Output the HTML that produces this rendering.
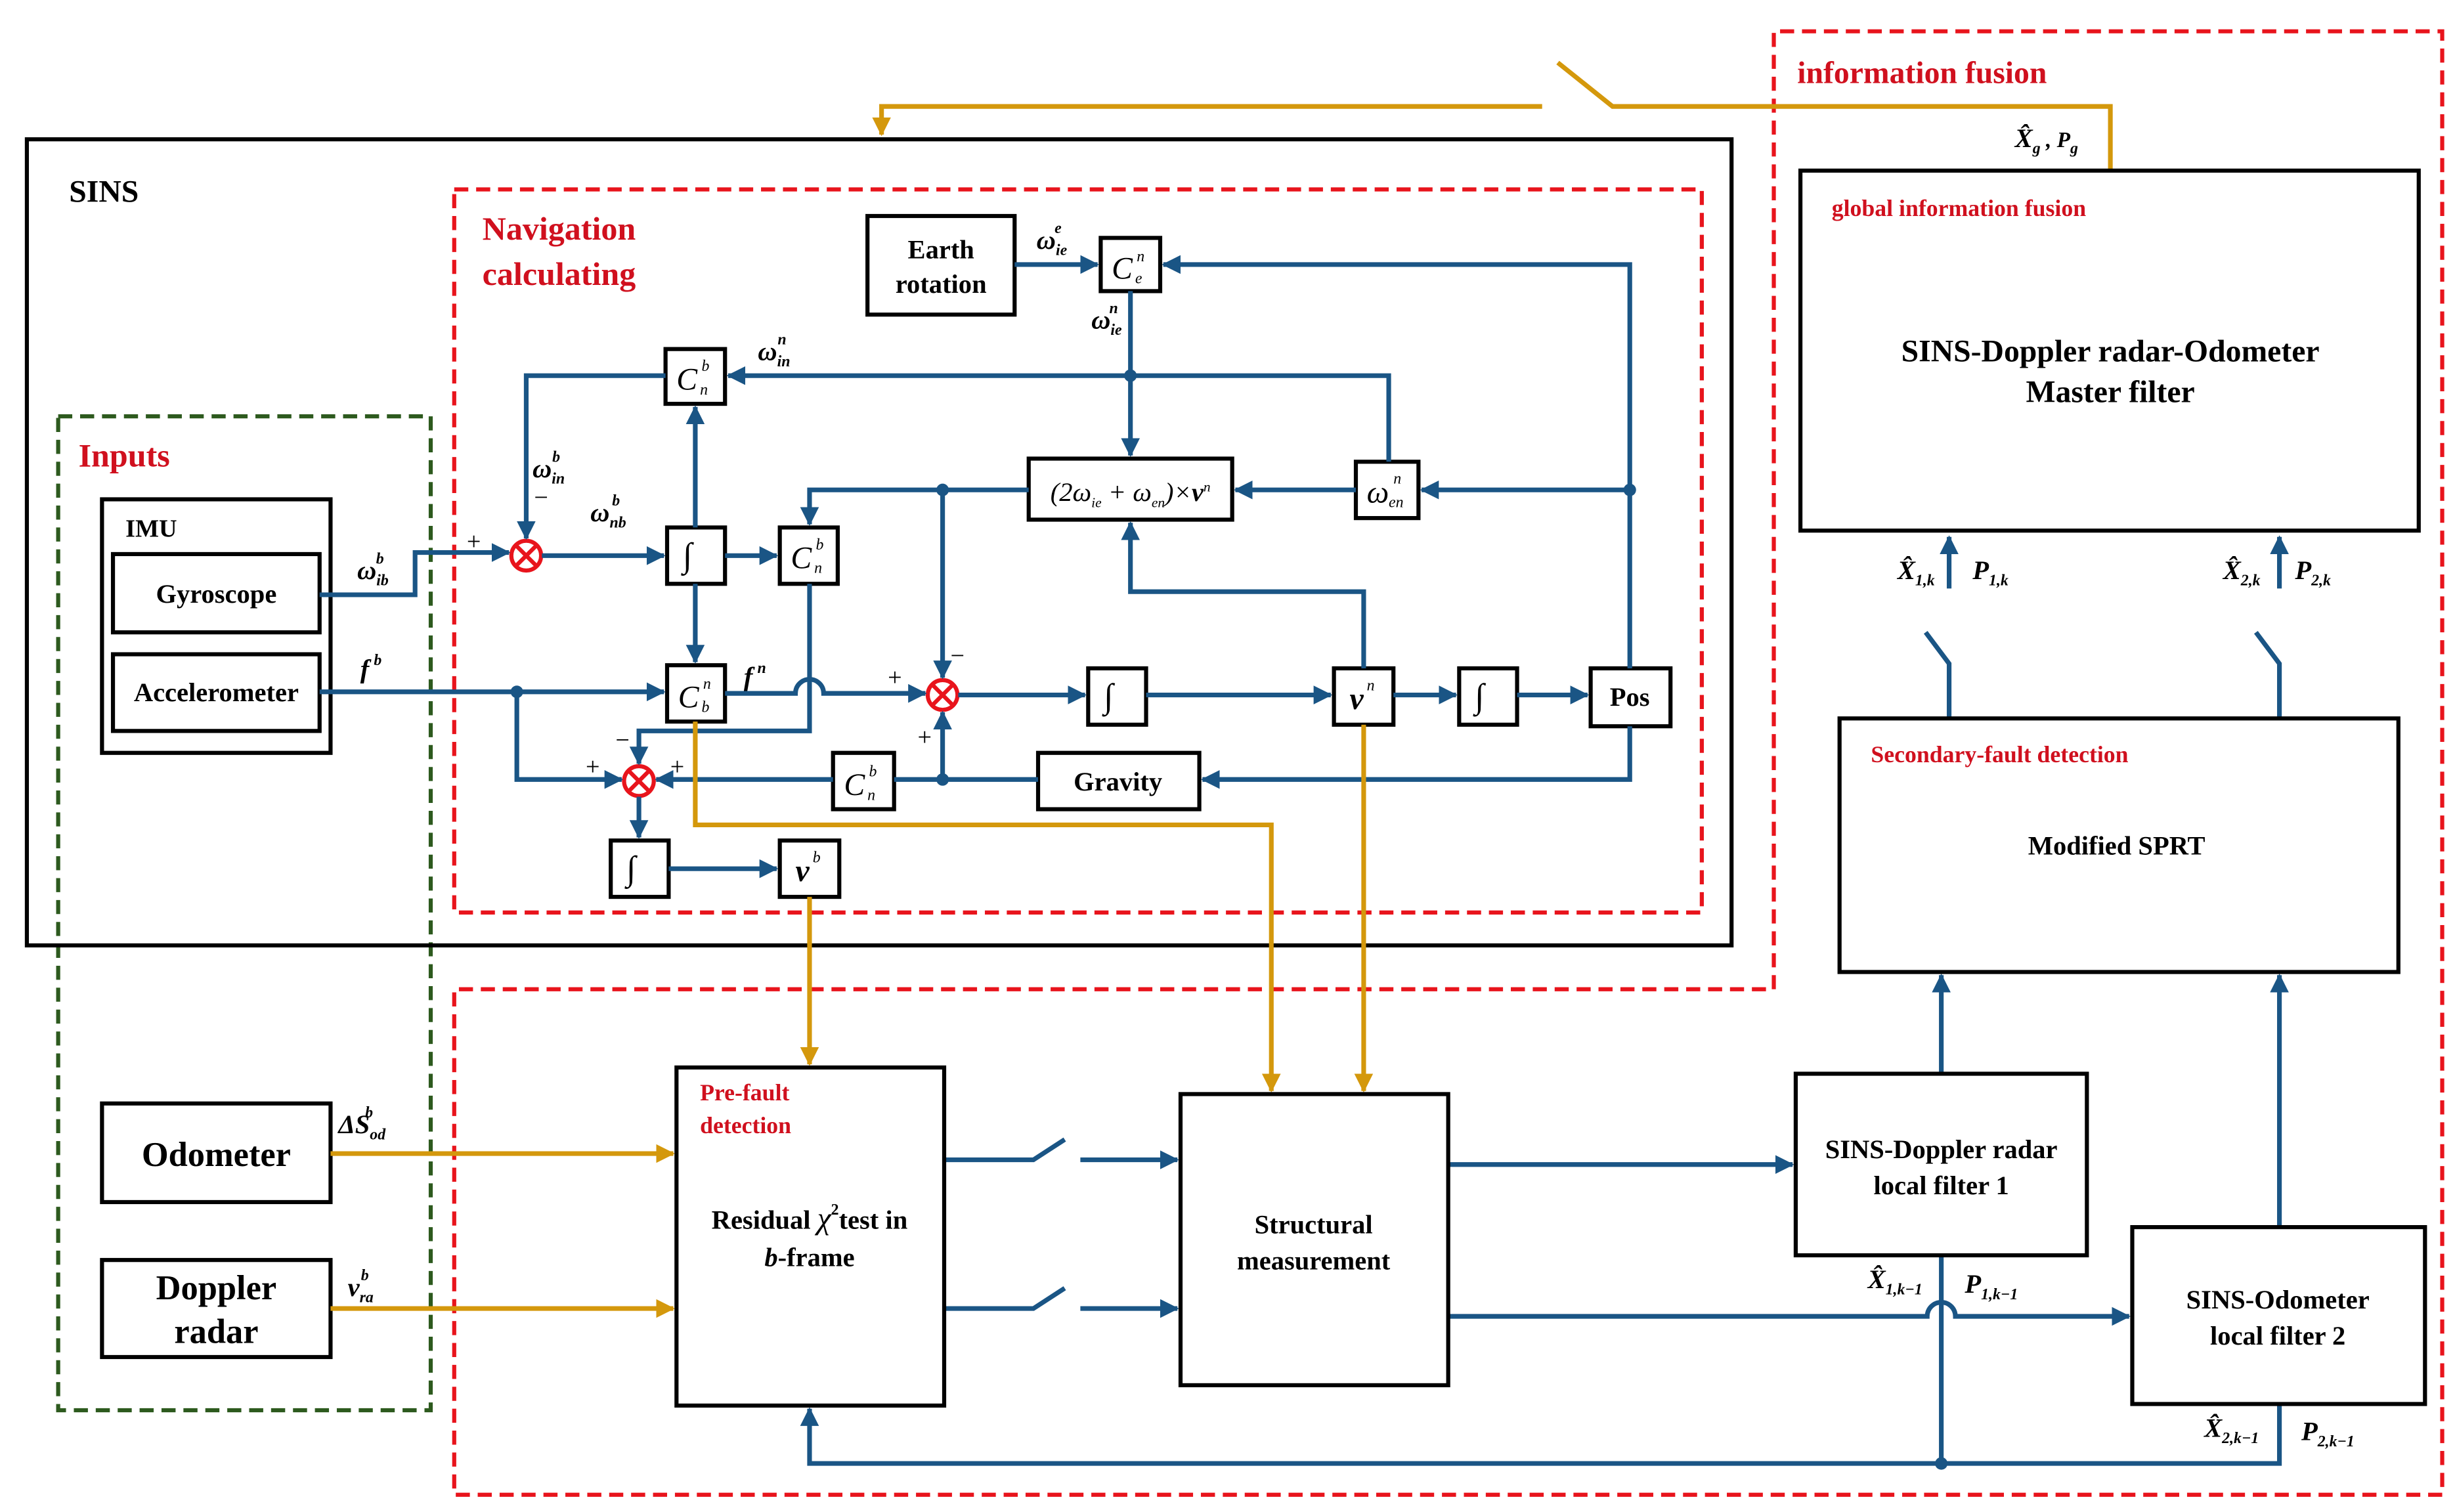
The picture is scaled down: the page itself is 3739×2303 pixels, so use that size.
<!DOCTYPE html>
<html><head><meta charset="utf-8"><style>
html,body{margin:0;padding:0;background:#fff}
svg{display:block}
text{font-family:"Liberation Serif",serif}
.b{fill:none;stroke:#000;stroke-width:2.6}
.w{fill:none;stroke:#1a5585;stroke-width:3}
.o{fill:none;stroke:#d4980c;stroke-width:3}
.lbl{font-weight:bold;font-size:17px;text-anchor:middle}
.red{fill:#d0101e;font-weight:bold}
.s{font-style:italic;font-size:10px}
</style></head><body>
<svg width="3739" height="2303" viewBox="0 0 1568 966" xmlns="http://www.w3.org/2000/svg">
<defs>
<marker id="a" markerUnits="userSpaceOnUse" markerWidth="12" markerHeight="12" refX="11" refY="6" orient="auto"><path d="M0,0 L12,6 L0,12 z" fill="#1a5585"/></marker>
<marker id="ao" markerUnits="userSpaceOnUse" markerWidth="12" markerHeight="12" refX="11" refY="6" orient="auto"><path d="M0,0 L12,6 L0,12 z" fill="#d4980c"/></marker>
</defs>
<rect width="1568" height="966" fill="#fff"/>

<rect x="290" y="121" width="797" height="462" fill="none" stroke="#e8141c" stroke-width="2.6" stroke-dasharray="9,5"/>
<rect x="37" y="266" width="238" height="635" fill="none" stroke="#2d5a1e" stroke-width="2.6" stroke-dasharray="9,5"/>
<path d="M1133,632 L1133,20 L1560,20 L1560,955 L290,955 L290,632 Z" fill="none" stroke="#e8141c" stroke-width="2.6" stroke-dasharray="9,5"/>
<rect x="17" y="89" width="1089" height="515" fill="none" stroke="#000" stroke-width="2.6"/>

<text x="44" y="129" font-size="20" font-weight="bold">SINS</text>
<text x="308" y="153" font-size="21" class="red">Navigation</text>
<text x="308" y="182" font-size="21" class="red">calculating</text>
<text x="50" y="298" font-size="21" class="red">Inputs</text>
<text x="1148" y="53" font-size="20" class="red">information fusion</text>

<rect x="65" y="319" width="146" height="162" class="b"/>
<text x="80" y="343" font-size="16" font-weight="bold">IMU</text>
<rect x="72" y="354" width="132" height="50" class="b"/>
<text x="138" y="385" class="lbl">Gyroscope</text>
<rect x="72" y="418" width="132" height="49" class="b"/>
<text x="138" y="448" class="lbl">Accelerometer</text>

<rect x="65" y="705" width="146" height="63" class="b"/>
<text x="138" y="745" class="lbl" style="font-size:22px">Odometer</text>
<rect x="65" y="805" width="146" height="62" class="b"/>
<text x="138" y="830" class="lbl" style="font-size:22px">Doppler</text>
<text x="138" y="858" class="lbl" style="font-size:22px">radar</text>

<rect x="554" y="138" width="94" height="63" class="b"/>
<text x="601" y="165" class="lbl">Earth</text>
<text x="601" y="187" class="lbl">rotation</text>
<rect x="703" y="152" width="38" height="34" class="b"/>
<rect x="425" y="223" width="38" height="35" class="b"/>
<rect x="426" y="337" width="37" height="36" class="b"/>
<rect x="498" y="337" width="37" height="36" class="b"/>
<rect x="426" y="425" width="37" height="36" class="b"/>
<rect x="657" y="293" width="130" height="39" class="b"/>
<rect x="866" y="295" width="40" height="36" class="b"/>
<rect x="695" y="427" width="37" height="36" class="b"/>
<rect x="852" y="427" width="38" height="36" class="b"/>
<rect x="932" y="427" width="37" height="36" class="b"/>
<rect x="1016" y="427" width="51" height="37" class="b"/>
<text x="1041" y="451" class="lbl">Pos</text>
<rect x="663" y="481" width="103" height="36" class="b"/>
<text x="714" y="505" class="lbl">Gravity</text>
<rect x="532" y="481" width="39" height="36" class="b"/>
<rect x="390" y="537" width="37" height="36" class="b"/>
<rect x="498" y="537" width="38" height="36" class="b"/>

<g font-style="italic" font-size="20">
<text x="710" y="178">C</text><text x="726" y="167" class="s">n</text><text x="725" y="181" class="s">e</text>
<text x="432" y="249">C</text><text x="448" y="237" class="s">b</text><text x="447" y="252" class="s">n</text>
<text x="505" y="363">C</text><text x="521" y="351" class="s">b</text><text x="520" y="366" class="s">n</text>
<text x="433" y="452">C</text><text x="449" y="440" class="s">n</text><text x="448" y="455" class="s">b</text>
<text x="539" y="508">C</text><text x="555" y="496" class="s">b</text><text x="554" y="511" class="s">n</text>
<text x="873" y="321">ω</text><text x="890" y="309" class="s">n</text><text x="887" y="324" class="s">en</text>
<text x="862" y="453" font-weight="bold">v</text><text x="873" y="441" class="s">n</text>
<text x="508" y="563" font-weight="bold">v</text><text x="519" y="551" class="s">b</text>
</g>
<text x="436" y="362" font-size="22">∫</text>
<text x="705" y="452" font-size="22">∫</text>
<text x="942" y="452" font-size="22">∫</text>
<text x="400" y="562" font-size="22">∫</text>
<text x="722" y="320" font-size="17" text-anchor="middle" font-style="italic">(2ω<tspan font-size="9" dy="4">ie</tspan><tspan font-size="17" dy="-4"> + ω</tspan><tspan font-size="9" dy="4">en</tspan><tspan font-size="17" dy="-4">)×</tspan><tspan font-weight="bold">v</tspan><tspan font-size="9" dy="-6">n</tspan></text>

<g fill="#fff" stroke="#e8141c" stroke-width="2.6">
<circle cx="336" cy="355" r="9.5"/><path d="M329,348 L343,362 M343,348 L329,362"/>
<circle cx="602" cy="444" r="9.5"/><path d="M595,437 L609,451 M609,437 L595,451"/>
<circle cx="408" cy="499" r="9.5"/><path d="M401,492 L415,506 M415,492 L401,506"/>
</g>

<g class="w">
<path d="M648,169 H701" marker-end="url(#a)"/>
<path d="M1041,427 V169 H743" marker-end="url(#a)"/>
<path d="M722,186 V291" marker-end="url(#a)"/>
<path d="M887,295 V240 H465" marker-end="url(#a)"/>
<path d="M425,240 H336 V344" marker-end="url(#a)"/>
<path d="M204,380 H265 V353 H325" marker-end="url(#a)"/>
<path d="M346,355 H424" marker-end="url(#a)"/>
<path d="M463,355 H496" marker-end="url(#a)"/>
<path d="M444,337 V260" marker-end="url(#a)"/>
<path d="M444,373 V423" marker-end="url(#a)"/>
<path d="M204,442 H424" marker-end="url(#a)"/>
<path d="M330,442 V498 H397" marker-end="url(#a)"/>
<path d="M463,443 H508 A9,9 0 0 1 526,443 H591" marker-end="url(#a)"/>
<path d="M517,373 V452 V467 H408 V488" marker-end="url(#a)"/>
<path d="M657,313 H517 V335" marker-end="url(#a)"/>
<path d="M602,313 V433" marker-end="url(#a)"/>
<path d="M612,444 H693" marker-end="url(#a)"/>
<path d="M732,444 H850" marker-end="url(#a)"/>
<path d="M890,444 H930" marker-end="url(#a)"/>
<path d="M969,444 H1014" marker-end="url(#a)"/>
<path d="M871,427 V378 H722 V334" marker-end="url(#a)"/>
<path d="M1041,313 H908" marker-end="url(#a)"/>
<path d="M866,313 H789" marker-end="url(#a)"/>
<path d="M1041,464 V498 H768" marker-end="url(#a)"/>
<path d="M663,498 H571"/>
<path d="M602,498 V455" marker-end="url(#a)"/>
<path d="M532,498 H419" marker-end="url(#a)"/>
<path d="M408,509 V535" marker-end="url(#a)"/>
<path d="M427,555 H496" marker-end="url(#a)"/>
<path d="M603,741 H660 L680,728"/>
<path d="M690,741 H752" marker-end="url(#a)"/>
<path d="M603,836 H660 L680,823"/>
<path d="M690,836 H752" marker-end="url(#a)"/>
<path d="M925,744 H1145" marker-end="url(#a)"/>
<path d="M925,841 H1231 A9,9 0 0 1 1249,841 H1360" marker-end="url(#a)"/>
<path d="M1240,802 V935"/>
<path d="M1456,897 V935 H517 V900" marker-end="url(#a)"/>
<path d="M1240,686 V623" marker-end="url(#a)"/>
<path d="M1456,784 V623" marker-end="url(#a)"/>
<path d="M1245,459 V424 L1230,404"/>
<path d="M1245,376 V343" marker-end="url(#a)"/>
<path d="M1456,459 V424 L1441,404"/>
<path d="M1456,376 V343" marker-end="url(#a)"/>
</g>
<g fill="#1a5585">
<circle cx="722" cy="240" r="4"/><circle cx="1041" cy="313" r="4"/><circle cx="602" cy="313" r="4"/>
<circle cx="330" cy="442" r="4"/><circle cx="602" cy="498" r="4"/><circle cx="1240" cy="935" r="4"/>
</g>

<g class="o">
<path d="M1348,109 V68 H1030 L995,40"/>
<path d="M985,68 H563 V86" marker-end="url(#ao)"/>
<path d="M517,573 V680" marker-end="url(#ao)"/>
<path d="M444,461 V527 H812 V697" marker-end="url(#ao)"/>
<path d="M871,463 V697" marker-end="url(#ao)"/>
<path d="M211,737 H430" marker-end="url(#ao)"/>
<path d="M211,836 H430" marker-end="url(#ao)"/>
</g>

<g font-size="16">
<text x="298" y="351">+</text><text x="341" y="323">−</text>
<text x="567" y="438">+</text><text x="607" y="424">−</text><text x="586" y="476">+</text>
<text x="374" y="495">+</text><text x="428" y="495">+</text><text x="393" y="478">−</text>
</g>

<g font-style="italic" font-weight="bold" font-size="17">
<text x="228" y="370">ω<tspan class="s" dy="4">ib</tspan><tspan class="s" dx="-8" dy="-14">b</tspan></text>
<text x="230" y="433">f<tspan class="s" dy="-8" dx="3">b</tspan></text>
<text x="340" y="305">ω<tspan class="s" dy="4">in</tspan><tspan class="s" dx="-8" dy="-14">b</tspan></text>
<text x="377" y="333">ω<tspan class="s" dy="4">nb</tspan><tspan class="s" dx="-9" dy="-14">b</tspan></text>
<text x="484" y="230">ω<tspan class="s" dy="4">in</tspan><tspan class="s" dx="-8" dy="-14">n</tspan></text>
<text x="662" y="159">ω<tspan class="s" dy="4">ie</tspan><tspan class="s" dx="-8" dy="-14">e</tspan></text>
<text x="697" y="210">ω<tspan class="s" dy="4">ie</tspan><tspan class="s" dx="-8" dy="-14">n</tspan></text>
<text x="475" y="438">f<tspan class="s" dy="-8" dx="3">n</tspan></text>
<text x="216" y="724">ΔS<tspan class="s" dy="4">od</tspan><tspan class="s" dx="-13" dy="-14">b</tspan></text>
<text x="222" y="828">v<tspan class="s" dy="4">ra</tspan><tspan class="s" dx="-8" dy="-14">b</tspan></text>
<text x="1287" y="94">X̂<tspan class="s" dy="4">g</tspan><tspan font-size="14" dy="-4"> , P</tspan><tspan class="s" dy="4">g</tspan></text>
<text x="1212" y="370">X̂<tspan class="s" dy="4">1,k</tspan></text>
<text x="1260" y="370">P<tspan class="s" dy="4">1,k</tspan></text>
<text x="1420" y="370">X̂<tspan class="s" dy="4">2,k</tspan></text>
<text x="1466" y="370">P<tspan class="s" dy="4">2,k</tspan></text>
<text x="1193" y="823">X̂<tspan class="s" dy="4">1,k−1</tspan></text>
<text x="1255" y="826">P<tspan class="s" dy="4">1,k−1</tspan></text>
<text x="1408" y="918">X̂<tspan class="s" dy="4">2,k−1</tspan></text>
<text x="1470" y="920">P<tspan class="s" dy="4">2,k−1</tspan></text>
</g>

<rect x="1150" y="109" width="395" height="230" class="b"/>
<text x="1170" y="138" font-size="15" class="red">global information fusion</text>
<text x="1348" y="231" class="lbl" style="font-size:20px">SINS-Doppler radar-Odometer</text>
<text x="1348" y="257" class="lbl" style="font-size:20px">Master filter</text>
<rect x="1175" y="459" width="357" height="162" class="b"/>
<text x="1195" y="487" font-size="15" class="red">Secondary-fault detection</text>
<text x="1352" y="546" class="lbl">Modified SPRT</text>
<rect x="1147" y="686" width="186" height="116" class="b"/>
<text x="1240" y="740" class="lbl">SINS-Doppler radar</text>
<text x="1240" y="763" class="lbl">local filter 1</text>
<rect x="1362" y="784" width="187" height="113" class="b"/>
<text x="1455" y="836" class="lbl">SINS-Odometer</text>
<text x="1455" y="859" class="lbl">local filter 2</text>
<rect x="754" y="699" width="171" height="186" class="b"/>
<text x="839" y="788" class="lbl">Structural</text>
<text x="839" y="811" class="lbl">measurement</text>
<rect x="432" y="682" width="171" height="216" class="b"/>
<text x="447" y="703" font-size="15" class="red">Pre-fault</text>
<text x="447" y="724" font-size="15" class="red">detection</text>
<text x="517" y="785" class="lbl">Residual <tspan font-style="italic" font-weight="normal" font-size="20">χ</tspan><tspan font-size="10" dy="-9">2</tspan><tspan dy="9">test in</tspan></text>
<text x="517" y="809" class="lbl"><tspan font-style="italic">b</tspan>-frame</text>
</svg>
</body></html>
